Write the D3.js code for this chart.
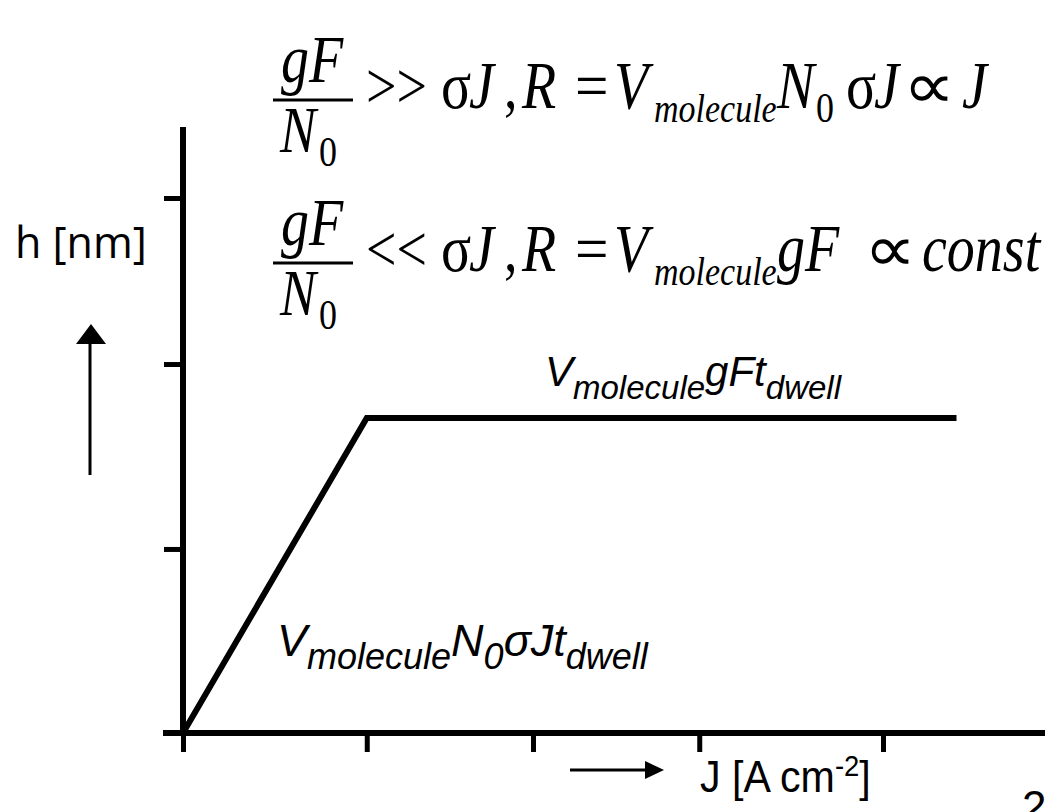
<!DOCTYPE html>
<html><head><meta charset="utf-8">
<script src="https://cdn.jsdelivr.net/npm/d3@7"></script>
<style>body{margin:0;background:#fff} svg{display:block}</style>
</head><body>
<svg id="c" width="1045" height="812"></svg>
<script>
// ---- data (schematic, arbitrary units) ----
const xTicks = [0, 1.05, 2, 2.95, 4];
const yTicks = [1.032, 2.069, 3];
const curveJ = [0, 1.05, 4.42];
const curveH = [0, 1.766, 1.766];
const yLabel = "h [nm]";
const xLabelMain = "J [A cm";
const xLabelSup = "-2";
const xLabelEnd = "]";

const svg = d3.select("#c");
const x = d3.scaleLinear().domain([0, 4]).range([183, 883]);
const y = d3.scaleLinear().domain([0, 3]).range([733, 198]);

const SERIF = "'Liberation Serif','Times New Roman',serif";
const SANS = "'Liberation Sans',Arial,sans-serif";

// axes
const gx = svg.append("g").attr("transform", "translate(0,733)")
  .call(d3.axisBottom(x).tickValues(xTicks).tickSize(19).tickSizeOuter(0).tickFormat(() => ""));
gx.select(".domain").attr("d", "M163,0H1045").attr("stroke", "#000").attr("stroke-width", 6);
gx.selectAll(".tick line").attr("stroke", "#000").attr("stroke-width", 5);

const gy = svg.append("g").attr("transform", "translate(183,0)")
  .call(d3.axisLeft(y).tickValues(yTicks).tickSize(19).tickSizeOuter(0).tickFormat(() => ""));
gy.select(".domain").attr("d", "M0,127V736").attr("stroke", "#000").attr("stroke-width", 6);
gy.selectAll(".tick line").attr("stroke", "#000").attr("stroke-width", 5);

// curve
const pts = curveJ.map((j, i) => [j, curveH[i]]);
svg.append("path").datum(pts)
  .attr("d", d3.line().x(d => x(d[0])).y(d => y(d[1])))
  .attr("fill", "none").attr("stroke", "#000").attr("stroke-width", 6)
  .attr("stroke-linejoin", "miter");

// axis labels + arrows
svg.append("text").attr("x", 15).attr("y", 258).attr("font-family", "'Open Sans',sans-serif")
  .attr("font-size", 43).text(yLabel);
svg.append("line").attr("x1", 90).attr("x2", 90).attr("y1", 475).attr("y2", 340)
  .attr("stroke", "#000").attr("stroke-width", 3);
svg.append("path").attr("d", "M76,344L106,344L91,324Z").attr("fill", "#000");

svg.append("line").attr("x1", 570).attr("x2", 648).attr("y1", 770).attr("y2", 770)
  .attr("stroke", "#000").attr("stroke-width", 3);
svg.append("path").attr("d", "M645,761L645,779L664,770Z").attr("fill", "#000");

const xl = svg.append("text").attr("transform", "translate(700,792) scale(0.98,1.05)")
  .attr("font-family", SANS).attr("font-size", 42);
xl.append("tspan").text(xLabelMain);
xl.append("tspan").attr("dy", -15).attr("font-size", 28).text(xLabelSup);
xl.append("tspan").attr("dy", 15).text(xLabelEnd);

// page number (clipped at the bottom edge)
svg.append("text").attr("x", 1022).attr("y", 822).attr("font-family", SANS).attr("font-size", 44).text("2");

// in-plot labels (Arial italic with subscripts)
function label(x0, y0, size, subSize, parts) {
  const t = svg.append("text").attr("x", x0).attr("y", y0).attr("font-family", SANS)
    .attr("font-style", "italic").attr("font-size", size);
  let cur = 0;
  parts.forEach(p => {
    const off = p.sub ? 13 : 0;
    t.append("tspan").attr("dy", off - cur).attr("font-size", p.sub ? subSize : size).text(p.t);
    cur = off;
  });
}
label(545, 386, 42, 33, [{t: "V"}, {t: "molecule", sub: true}, {t: "gFt"}, {t: "dwell", sub: true}]);
label(277, 656, 45, 36, [{t: "V"}, {t: "molecule", sub: true}, {t: "N"}, {t: "0", sub: true}, {t: "\u03C3Jt"}, {t: "dwell", sub: true}]);

// formulas (Times, slightly tall as in the reference)
const SY = 1.2;
function txt(x0, y0, s, size, italic, anchor, sx) {
  svg.append("text").attr("transform", `translate(${x0},${y0}) scale(${sx || 1},${SY})`)
    .attr("font-family", SERIF)
    .attr("font-size", size).attr("font-style", italic ? "italic" : "normal")
    .attr("text-anchor", anchor || "start").text(s);
}
function formula(dy, rel, tail) {
  const b = 108 + dy;
  txt(312, 82 + dy, "gF", 56, true, "middle");
  svg.append("line").attr("x1", 273).attr("x2", 353).attr("y1", 100 + dy).attr("y2", 100 + dy)
    .attr("stroke", "#000").attr("stroke-width", 3);
  txt(280, 152 + dy, "N", 54, true);
  txt(319, 166 + dy, "0", 36, false);
  txt(366, b, rel, 54, false);
  txt(441, b, "\u03C3", 56, false);
  txt(469, b, "J", 56, true);
  txt(504, b, ",", 54, false);
  txt(522, b, "R", 56, true);
  txt(575, b, "=", 54, false, "start", 1.1);
  txt(614, b, "V", 56, true);
  txt(654, b + 14, "molecule", 34, true);
  tail(b);
}
formula(0, ">>", b => {
  txt(777, b, "N", 56, true);
  txt(816, b + 14, "0", 36, false);
  txt(846, b, "\u03C3", 56, false);
  txt(874, b, "J", 56, true);
  txt(903, b, "\u221D", 54, false, "start", 1.35);
  txt(962, b, "J", 56, true);
});
formula(163, "<<", b => {
  txt(777, b, "gF", 56, true);
  txt(864, b, "\u221D", 54, false, "start", 1.35);
  txt(922, b, "const", 56, true);
});
</script>
</body></html>
